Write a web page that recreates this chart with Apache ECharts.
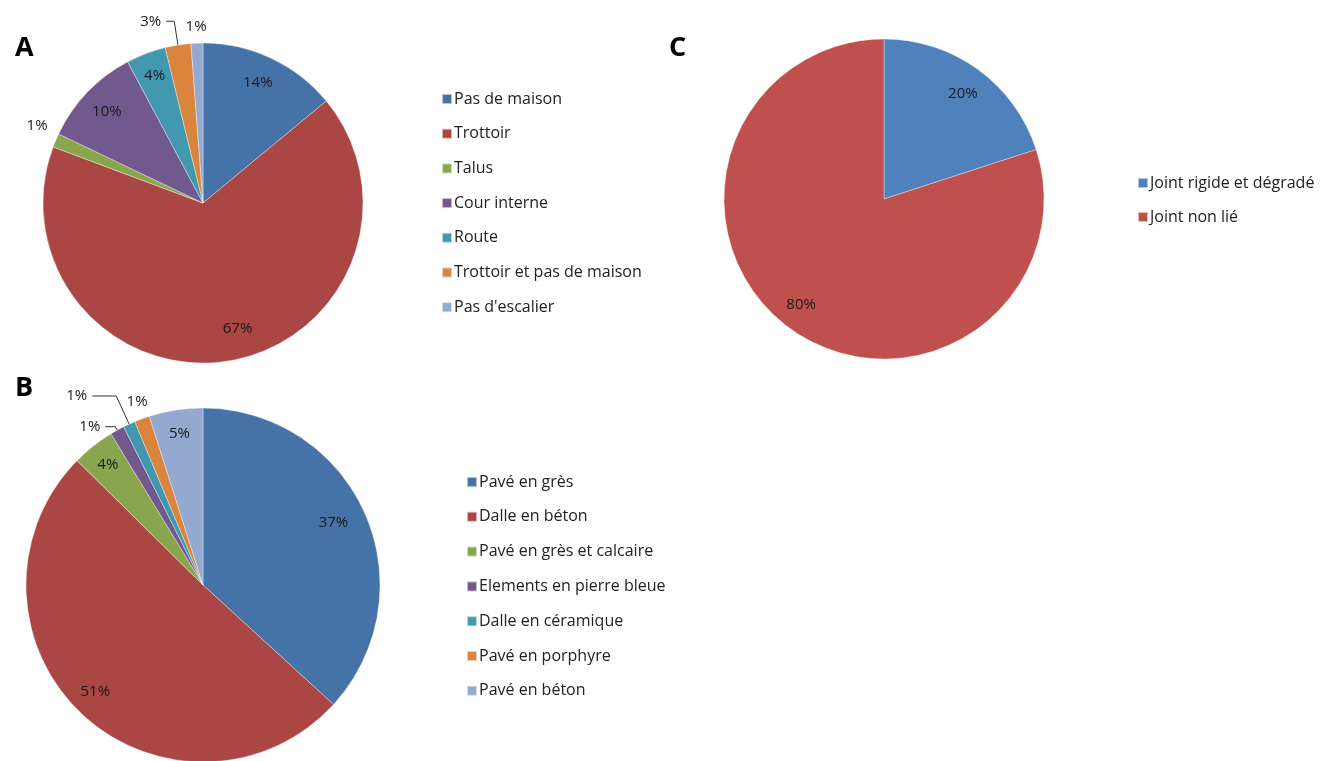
<!DOCTYPE html>
<html><head><meta charset="utf-8">
<script src="https://cdn.jsdelivr.net/npm/echarts@6/dist/echarts.min.js"></script>
<style>html,body{margin:0;padding:0;background:#fff}#c{width:1320px;height:761px}</style>
</head><body><div id="c"></div>
<script>
// ---- data ----
const catsA = ['Pas de maison', 'Trottoir', 'Talus', 'Cour interne', 'Route', 'Trottoir et pas de maison', "Pas d'escalier"];
const valsA = [14.0, 66.7, 1.4, 10.1, 4.0, 2.6, 1.2];
const catsB = ['Pavé en grès', 'Dalle en béton', 'Pavé en grès et calcaire', 'Elements en pierre bleue', 'Dalle en céramique', 'Pavé en porphyre', 'Pavé en béton'];
const valsB = [36.8, 50.6, 3.9, 1.3, 1.1, 1.4, 4.9];
const catsC = ['Joint rigide et dégradé', 'Joint non lié'];
const valsC = [20, 80];
const panelLabels = ['A', 'B', 'C'];

// ---- style ----
const palAB = ['#4572A7', '#AA4643', '#89A54E', '#71588F', '#4198AF', '#DB843D', '#93A9CF'];
const palC = ['#4F81BD', '#C0504D'];
const FONT = 'Open Sans';
const TXT = '#1a1a1a';
// outside-label settings per slice index
const outA = {2: {len: 10, len2: 0, line: false, dx: 6, dy: -11}, 5: {len: 24, len2: 8, line: true}, 6: {len: 10, len2: 0, line: false, dx: 15, dy: -6}};
const outB = {3: {len: 4, len2: 10, line: true}, 4: {len: 31, len2: 24, line: true}, 5: {len: 10, len2: 0, line: false, dx: 14, dy: -8}};
const outC = {};
// small nudges of inside labels (best-fit placement)
const inA = {0: [-3, 3], 1: [12, -8], 3: [2, 3]};
const inB = {0: [-10, 0], 1: [-2, -4]};
const inC = {0: [0, 3], 1: [-4, -3]};

const fmt = p => Math.round(p.percent) + '%';

function pieSeries(cats, vals, pal, center, r, inner, out, nudge) {
  const main = {
    type: 'pie', center: center, radius: r, startAngle: 90, clockwise: true,
    avoidLabelOverlap: false, animation: false, silent: true,
    itemStyle: {borderColor: 'rgba(255,255,255,0.6)', borderWidth: 0.6},
    label: {show: false}, labelLine: {show: false},
    labelLayout: function (params) {
      const o = out[params.dataIndex];
      if (o && !o.line && (o.dx || o.dy)) return {dx: o.dx || 0, dy: o.dy || 0};
      return {};
    },
    data: cats.map((n, i) => {
      const o = out[i];
      return {
        name: n, value: vals[i], itemStyle: {color: pal[i]},
        label: o ? {show: true, position: 'outside', formatter: fmt, fontSize: 15, fontFamily: FONT, color: TXT} : {show: false},
        labelLine: o ? {show: o.line, length: o.len, length2: o.len2, smooth: false, lineStyle: {color: '#333', width: 1}} : {show: false}
      };
    })
  };
  const overlay = {
    type: 'pie', center: center, radius: [r * inner, r], startAngle: 90, clockwise: true,
    avoidLabelOverlap: false, animation: false, silent: true,
    itemStyle: {color: 'rgba(0,0,0,0)', borderWidth: 0},
    labelLine: {show: false},
    labelLayout: function (params) {
      const d = nudge[params.dataIndex];
      if (d) return {dx: d[0], dy: d[1]};
      return {};
    },
    data: cats.map((n, i) => ({
      name: n, value: vals[i], itemStyle: {color: 'rgba(0,0,0,0)'},
      label: out[i] ? {show: false} : {show: true, position: 'inside', formatter: fmt, fontSize: 15, fontFamily: FONT, color: TXT}
    }))
  };
  return [main, overlay];
}

function legend(cats, left, top, gap) {
  return {
    orient: 'vertical', left: left, top: top, icon: 'rect', itemWidth: 10, itemHeight: 10,
    itemGap: gap, selectedMode: false, data: cats,
    textStyle: {fontSize: 16, fontFamily: FONT, color: '#222', lineHeight: 20, padding: [0, 0, 0, -3]}
  };
}

const chart = echarts.init(document.getElementById('c'), null, {renderer: 'canvas'});
chart.setOption({
  backgroundColor: '#ffffff',
  animation: false,
  title: [
    {text: panelLabels[0], left: 10, top: 30, textStyle: {fontSize: 27, fontWeight: 'bold', fontFamily: FONT, color: '#000'}},
    {text: panelLabels[1], left: 10, top: 370, textStyle: {fontSize: 27, fontWeight: 'bold', fontFamily: FONT, color: '#000'}},
    {text: panelLabels[2], left: 664, top: 30, textStyle: {fontSize: 27, fontWeight: 'bold', fontFamily: FONT, color: '#000'}}
  ],
  legend: [
    legend(catsA, 436, 84, 14.7),
    legend(catsB, 461, 467, 14.8),
    legend(catsC, 1132, 168, 14)
  ],
  series: [].concat(
    pieSeries(catsA, valsA, palAB, [203, 203], 160, 0.66, outA, inA),
    pieSeries(catsB, valsB, palAB, [203, 585], 177, 0.70, outB, inB),
    pieSeries(catsC, valsC, palC, [884, 199], 160, 0.64, outC, inC)
  )
});
</script>
</body></html>
